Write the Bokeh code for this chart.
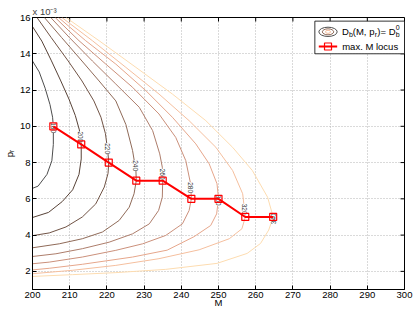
from bokeh.plotting import figure
from bokeh.models import Range1d, FixedTicker
from bokeh.core.properties import value
from bokeh.embed import file_html
from bokeh.resources import INLINE

FONT = "Liberation Sans"

# ---------------- data ----------------
x_ticks = [200, 210, 220, 230, 240, 250, 260, 270, 280, 290, 300]
y_ticks = [2, 4, 6, 8, 10, 12, 14, 16]          # p_r in units of 1e-3
levels = [180, 200, 220, 240, 260, 280, 300, 320, 340]

c180_M = [200.0, 201.8, 203.4, 204.7, 205.4, 205.6, 205.6, 205.2, 203.9, 201.5, 200.0]
c180_p = [13.6, 13.0, 12.1, 11.2, 10.5, 10.0, 9.0, 8.1, 7.35, 6.7, 6.58]

c200_M = [200.0, 202.5, 205.0, 207.5, 209.8, 211.5, 212.6, 213.1, 213.1, 212.5, 210.8, 208.0, 204.3, 200.0]
c200_p = [15.5, 14.7, 13.65, 12.55, 11.5, 10.6, 9.8, 9.0, 8.2, 7.35, 6.5, 5.85, 5.25, 4.97]

c220_M = [201.2, 205.0, 209.6, 213.3, 216.5, 218.4, 219.6, 220.2, 220.5, 220.3, 219.3, 217.0, 213.4, 209.0, 204.5, 200.0]
c220_p = [16.0, 14.9, 13.6, 12.5, 11.4, 10.5, 9.6, 8.7, 8.0, 7.4, 6.65, 5.72, 5.0, 4.45, 4.12, 3.97]

c240_M = [203.2, 207.8, 213.3, 217.9, 222.4, 225.1, 226.9, 227.8, 227.9, 227.3, 226.0, 223.3, 218.8, 213.4, 207.2, 200.0]
c240_p = [16.0, 14.9, 13.6, 12.5, 11.4, 10.1, 8.66, 7.56, 7.0, 6.28, 5.54, 4.81, 4.17, 3.8, 3.52, 3.3]

c260_M = [204.9, 209.9, 216.1, 222.4, 228.7, 232.3, 234.2, 234.9, 235.0, 234.9, 233.9, 231.4, 226.9, 220.6, 213.4, 206.3, 200.0]
c260_p = [16.0, 14.9, 13.6, 12.33, 11.05, 9.76, 8.48, 7.74, 7.0, 6.09, 5.36, 4.62, 4.07, 3.61, 3.25, 2.97, 2.82]

c280_M = [206.1, 212.5, 219.7, 226.9, 234.0, 238.5, 241.2, 242.5, 242.7, 242.1, 240.3, 235.8, 229.6, 222.4, 213.4, 204.5, 200.0]
c280_p = [16.0, 14.72, 13.43, 12.15, 10.68, 9.39, 8.11, 6.83, 6.0, 5.36, 4.62, 3.98, 3.52, 3.16, 2.79, 2.51, 2.42]

c300_M = [207.0, 214.3, 222.4, 230.5, 237.6, 243.9, 247.5, 249.6, 250.0, 249.5, 247.9, 243.4, 236.2, 226.9, 213.4, 204.5, 200.0]
c300_p = [16.0, 14.72, 13.43, 11.96, 10.5, 9.03, 7.93, 6.83, 6.0, 5.17, 4.53, 3.91, 3.17, 2.79, 2.39, 2.17, 2.08]

c320_M = [207.9, 216.1, 225.1, 234.0, 242.1, 249.3, 253.8, 256.5, 257.2, 256.3, 252.9, 244.8, 234.0, 222.4, 210.8, 200.0]
c320_p = [16.0, 14.72, 13.25, 11.78, 10.31, 8.84, 7.56, 6.28, 5.0, 4.35, 3.8, 3.19, 2.7, 2.33, 2.06, 1.87]

c340_M = [209.0, 217.9, 227.8, 237.6, 246.6, 253.8, 259.1, 263.2, 264.7, 263.5, 261.3, 257.7, 249.6, 235.8, 222.4, 210.8, 200.0]
c340_p = [16.0, 14.72, 13.25, 11.78, 10.31, 8.84, 7.56, 6.09, 5.0, 4.28, 3.54, 2.99, 2.44, 2.11, 1.93, 1.82, 1.72]

locus_M = [205.6, 213.1, 220.5, 227.9, 235.0, 242.7, 250.0, 257.2, 264.7]
locus_p = [10, 9, 8, 7, 7, 6, 6, 5, 5]

label_M = [205.6, 212.8, 220.1, 227.6, 235.0, 242.5, 250.0, 257.1, 264.7]
label_p = [9.93, 9.42, 8.77, 7.83, 7.36, 6.62, 5.92, 5.43, 4.9]

contour_colors = ["#4d4d4d", "#574237", "#705345", "#8f6a58", "#ad7d6b",
                  "#cb907b", "#e6a68b", "#f5bf9e", "#fddcb0"]

contours_M = [c180_M, c200_M, c220_M, c240_M, c260_M, c280_M, c300_M, c320_M, c340_M]
contours_p = [c180_p, c200_p, c220_p, c240_p, c260_p, c280_p, c300_p, c320_p, c340_p]

# ---------------- figure ----------------
p = figure(width=415, height=313, x_range=Range1d(200, 300), y_range=Range1d(1, 16),
           output_backend="svg", toolbar_location=None,
           min_border_left=32, min_border_right=11, min_border_top=17, min_border_bottom=24)
p.background_fill_color = "white"
p.border_fill_color = "white"
p.outline_line_color = "black"
p.outline_line_width = 1

# exponent note at top-left, as a left-aligned title
p.title.text = "x 10\u207b\u00b3"
p.title.align = "left"
p.title.text_font = FONT
p.title.text_font_size = "9.5px"
p.title.text_font_style = "normal"
p.title.standoff = 1
p.title.offset = 0

for ax in (p.xaxis[0], p.yaxis[0]):
    ax.major_tick_in = 4
    ax.major_tick_out = 0
    ax.minor_tick_line_color = None
    ax.axis_line_color = "black"
    ax.major_tick_line_color = "black"
    ax.major_label_text_font = FONT
    ax.major_label_text_color = "black"
    ax.major_label_text_font_size = "9.5px"
    ax.major_label_standoff = 2
    ax.axis_label_text_font = FONT
    ax.axis_label_text_font_size = "9.5px"
    ax.axis_label_text_font_style = "normal"
    ax.axis_label_text_color = "black"
p.xaxis.ticker = FixedTicker(ticks=x_ticks)
p.yaxis.ticker = FixedTicker(ticks=y_ticks)
p.xaxis.axis_label = "M"
p.xaxis.axis_label_standoff = -4
p.yaxis.axis_label = "p\u1d63"
p.yaxis.axis_label_standoff = 2

p.xgrid.ticker = FixedTicker(ticks=x_ticks)
p.ygrid.ticker = FixedTicker(ticks=y_ticks)
for g in (p.xgrid[0], p.ygrid[0]):
    g.grid_line_color = "#b5b5b5"
    g.grid_line_dash = "1 2"
    g.grid_line_width = 1

# inward ticks on the top and right sides of the box (MATLAB "box on")
tick_len_M = 4 / 3.72
tick_len_p = 4 / 18.17
p.segment(x0=x_ticks, y0=[16] * len(x_ticks), x1=x_ticks, y1=[16 - tick_len_p] * len(x_ticks),
          line_color="black", line_width=1)
p.segment(x0=[300] * len(y_ticks), y0=y_ticks, x1=[300 - tick_len_M] * len(y_ticks), y1=y_ticks,
          line_color="black", line_width=1)

# contour lines
for cm, cp, col in zip(contours_M, contours_p, contour_colors):
    p.line(cm, cp, line_color=col, line_width=1)

# contour labels
angles = [-1.5708] * 8 + [1.5708]
p.text(x=label_M, y=label_p, text=[str(v) for v in levels], angle=angles,
       text_font=value(FONT), text_font_size="6.5px", text_color="#333333",
       text_align="center", text_baseline="middle",
       background_fill_color="white")

# max M locus
p.line(locus_M, locus_p, line_color="red", line_width=2)
p.scatter(locus_M, locus_p, marker="square", size=7, line_color="red",
          fill_color=None, line_width=1.2)

# legend box
p.quad(left=275.9, right=300, top=15.8, bottom=14.0, fill_color="white",
       line_color="black", line_width=0.8)
p.ellipse(x=[279.44] * 3, y=[15.21] * 3, width=[4.92, 3.05, 1.35], height=[0.51, 0.33, 0.17],
          fill_color=None, line_color=[contour_colors[0], contour_colors[3], contour_colors[7]],
          line_width=1)
txt = dict(text_font=value(FONT), text_color="black", text_align="left", text_baseline="middle")
p.text(x=[283.2, 286.1, 292.69], y=[15.23] * 3, text=["D", "(M, p", ")= D"],
       text_font_size="9.5px", **txt)
p.text(x=[285.05, 291.99, 297.63], y=[15.04] * 3, text=["b", "r", "b"],
       text_font_size="7px", **txt)
p.text(x=[297.63], y=[15.45], text=["0"], text_font_size="7px", **txt)
p.line([276.96, 281.9], [14.4, 14.4], line_color="red", line_width=2)
p.scatter([279.44], [14.4], marker="square", size=7, line_color="red", fill_color=None, line_width=1.2)
p.text(x=[283.25], y=[14.38], text=["max. M locus"], text_font_size="9.5px", **txt)

open("out.html", "w").write(file_html(p, INLINE))
